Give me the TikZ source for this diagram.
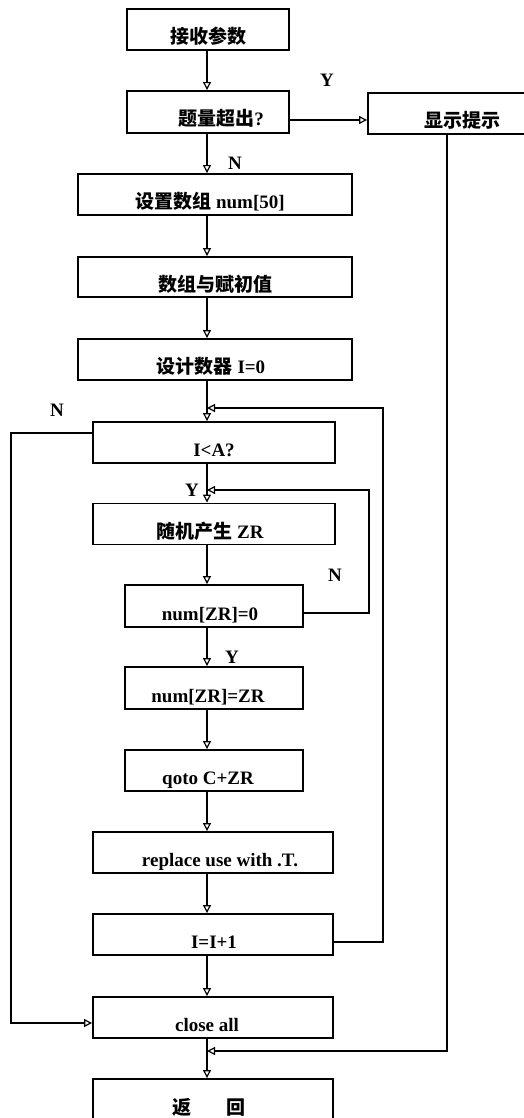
\documentclass[tikz,border=0pt]{standalone}
\usepackage{fontspec}
\setmainfont{Liberation Serif}
\newfontfamily\cjk{Noto Sans CJK SC Medium}
\usetikzlibrary{arrows.meta}
\newcommand{\lo}[2][0pt]{\raisebox{-14pt}[0pt][0pt]{\makebox[0pt][c]{\kern#1\kern#1#2}}}
\begin{document}
\begin{tikzpicture}[x=1pt,y=-1pt,
  box/.style={draw, line width=1.9pt, minimum height=41pt, inner sep=0pt, font=\fontsize{19}{22}\selectfont\bfseries},
  arr/.style={line width=1.9pt, -{Triangle[open,length=8pt,width=8pt,line width=1.2pt]}},
  lab/.style={font=\fontsize{19}{22}\selectfont\bfseries, inner sep=0pt}]
\useasboundingbox (0,0) rectangle (524,1118);
\node[box,minimum width=162pt] (b1) at (208,29.5) {\lo{\cjk 接收参数}};
\node[box,minimum width=162pt,minimum height=42pt] (b2) at (208,112) {\lo[13pt]{{\cjk 题量超出}?}};
\node[box,minimum width=184pt] (show) at (460,113.5) {\lo[2pt]{\cjk 显示提示}};
\node[box,minimum width=274pt] (b3) at (215,194.5) {\lo[-5pt]{{\cjk 设置数组} num[50]}};
\node[box,minimum width=274pt,minimum height=40pt] (b4) at (215,277) {\lo{\cjk 数组与赋初值}};
\node[box,minimum width=274pt] (b5) at (215,359.5) {\lo[-4pt]{{\cjk 设计数器} I=0}};
\node[box,minimum width=242pt] (b6) at (214,442.5) {\lo{I<A?}};
\node[box,minimum width=242pt] (b7) at (214,524) {\lo[-4pt]{{\cjk 随机产生} ZR}};
\node[box,minimum width=178pt,minimum height=42pt] (b8) at (214,606) {\lo[-4pt]{num[ZR]=0}};
\node[box,minimum width=178pt,minimum height=42pt] (b9) at (214,688) {\lo[-6pt]{num[ZR]=ZR}};
\node[box,minimum width=178pt] (b10) at (214,770.5) {\lo[-6pt]{qoto C+ZR}};
\node[box,minimum width=240pt] (b11) at (213,852.5) {\lo[7pt]{replace use with .T.}};
\node[box,minimum width=240pt] (b12) at (213,934.5) {\lo[1pt]{I=I+1}};
\node[box,minimum width=240pt] (b13) at (213,1017.5) {\lo[-6pt]{close all}};
\node[box,minimum width=240pt,minimum height=42pt] (b14) at (213,1100) {\lo[-4pt]{{\cjk 返}\hspace{1.85em}{\cjk 回}}};
\coordinate (ax) at (207,0);
\coordinate (sx) at (447,0);
\coordinate (j1) at (207,408);
\coordinate (j2) at (207,490);
\coordinate (j3) at (207,1051);
\draw[arr] (b1.south -| ax) -- (b2.north -| ax);
\draw[arr] ([yshift=-8pt]b2.east) coordinate (t) -- (t -| show.west);
\draw[arr] (b2.south -| ax) -- (b3.north -| ax);
\draw[arr] (b3.south -| ax) -- (b4.north -| ax);
\draw[arr] (b4.south -| ax) -- (b5.north -| ax);
\draw[arr] (b5.south -| ax) -- (b6.north -| ax);
\draw[arr] (b6.south -| ax) -- (b7.north -| ax);
\draw[arr] (b7.south -| ax) -- (b8.north -| ax);
\draw[arr] (b8.south -| ax) -- (b9.north -| ax);
\draw[arr] (b9.south -| ax) -- (b10.north -| ax);
\draw[arr] (b10.south -| ax) -- (b11.north -| ax);
\draw[arr] (b11.south -| ax) -- (b12.north -| ax);
\draw[arr] (b12.south -| ax) -- (b13.north -| ax);
\draw[arr] (b13.south -| ax) -- (b14.north -| ax);
\draw[arr] ([yshift=-7.5pt]b12.east) -- ++(49,0) |- (j1);
\draw[arr] ([yshift=-7pt]b8.east) -- ++(65,0) |- (j2);
\draw[arr] ([yshift=9.5pt]b6.west) -- ++(-81,0) |- ([yshift=-5.5pt]b13.west);
\draw[arr] (show.south -| sx) |- (j3);
\node[lab] (ly1) at (327,80) {Y};
\node[lab] (ln1) at (235,163) {N};
\node[lab] (ln2) at (57,410) {N};
\node[lab] (ly2) at (192,490) {Y};
\node[lab] (ln3) at (335,575) {N};
\node[lab] (ly3) at (232,657) {Y};
\end{tikzpicture}
\end{document}
